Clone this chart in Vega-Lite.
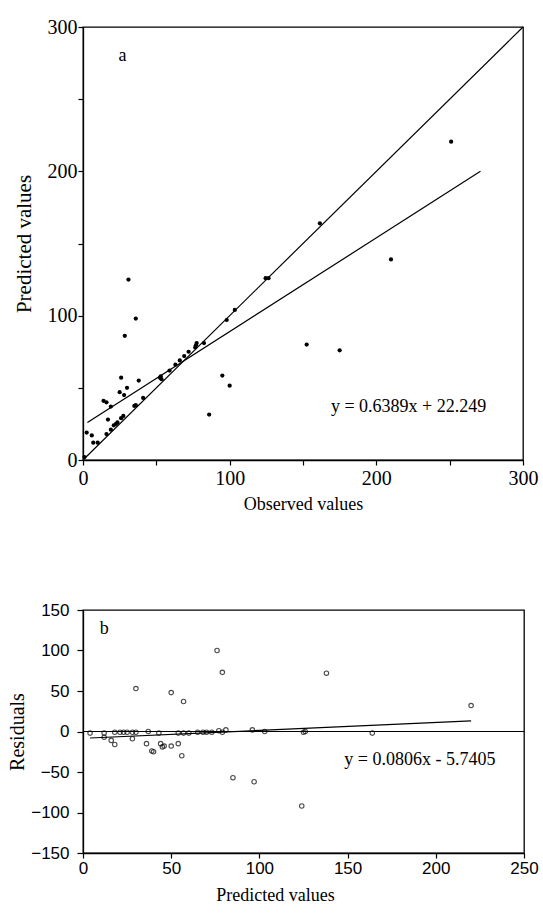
{
  "$schema": "https://vega.github.io/schema/vega-lite/v6.json",
  "background": "white",
  "padding": {"left": 7, "top": 16, "right": 5, "bottom": 5},
  "spacing": 86,
  "config": {
    "view": {"stroke": "black", "strokeWidth": 1.3},
    "axis": {"domainColor": "black", "tickColor": "black", "labelColor": "black", "titleColor": "black", "grid": false, "domainWidth": 1.3, "tickWidth": 1.2, "titleFontWeight": "normal"}
  },
  "datasets": {
    "obs": [
      {"x": 1, "y": 2}, {"x": 2.5, "y": 19}, {"x": 6, "y": 17}, {"x": 7, "y": 12}, {"x": 10, "y": 12},
      {"x": 16, "y": 18}, {"x": 17, "y": 28}, {"x": 14, "y": 41}, {"x": 16, "y": 40}, {"x": 19, "y": 37},
      {"x": 19, "y": 21}, {"x": 21, "y": 24}, {"x": 22.5, "y": 25}, {"x": 23.5, "y": 26}, {"x": 26, "y": 29},
      {"x": 27.5, "y": 30.5}, {"x": 25, "y": 47}, {"x": 28, "y": 45}, {"x": 26, "y": 57}, {"x": 30, "y": 50},
      {"x": 28.5, "y": 86}, {"x": 31, "y": 125}, {"x": 36, "y": 98}, {"x": 38, "y": 55}, {"x": 35, "y": 37.5},
      {"x": 36, "y": 38}, {"x": 41, "y": 43}, {"x": 52.5, "y": 57}, {"x": 53, "y": 58}, {"x": 53.5, "y": 56},
      {"x": 59, "y": 62}, {"x": 63, "y": 66}, {"x": 66, "y": 69}, {"x": 69, "y": 72}, {"x": 72, "y": 75},
      {"x": 76.5, "y": 78}, {"x": 77.5, "y": 81}, {"x": 77, "y": 79.5}, {"x": 82.5, "y": 81}, {"x": 86, "y": 31.5},
      {"x": 95, "y": 58.5}, {"x": 100, "y": 51.5}, {"x": 98, "y": 97}, {"x": 103.5, "y": 104}, {"x": 124.5, "y": 126},
      {"x": 126.5, "y": 126}, {"x": 161.5, "y": 164}, {"x": 210, "y": 139}, {"x": 251, "y": 220.5}, {"x": 152.5, "y": 80},
      {"x": 175, "y": 76}
    ],
    "oneToOne": [{"x": 0, "y": 0}, {"x": 300, "y": 300}],
    "fitTop": [{"x": 3, "y": 26}, {"x": 271, "y": 200}],
    "textTop": [{"x": 27, "y": 280, "label": "a"}, {"x": 222, "y": 37, "label": "y = 0.6389x + 22.249"}],
    "resid": [
      {"x": 4, "y": -2}, {"x": 12, "y": -2}, {"x": 12, "y": -7}, {"x": 16, "y": -11}, {"x": 18, "y": -16},
      {"x": 18, "y": -1}, {"x": 21, "y": -1}, {"x": 23, "y": -1}, {"x": 25, "y": -1}, {"x": 28, "y": -1},
      {"x": 30, "y": -1}, {"x": 28, "y": -9}, {"x": 30, "y": 53}, {"x": 37, "y": 0}, {"x": 36, "y": -15},
      {"x": 39, "y": -24}, {"x": 40, "y": -25}, {"x": 43, "y": -2}, {"x": 44, "y": -15}, {"x": 45, "y": -19},
      {"x": 46, "y": -18}, {"x": 50, "y": -18}, {"x": 50, "y": 48}, {"x": 54, "y": -15}, {"x": 56, "y": -30},
      {"x": 57, "y": 37}, {"x": 54, "y": -2}, {"x": 57, "y": -2}, {"x": 60, "y": -2}, {"x": 65, "y": -1},
      {"x": 68, "y": -1}, {"x": 70, "y": -1}, {"x": 73, "y": -1}, {"x": 76, "y": 100}, {"x": 77, "y": 1},
      {"x": 79, "y": 73}, {"x": 79, "y": -1}, {"x": 81, "y": 2}, {"x": 85, "y": -57}, {"x": 96, "y": 2},
      {"x": 97, "y": -62}, {"x": 103, "y": 0}, {"x": 125, "y": -1}, {"x": 126, "y": 0}, {"x": 138, "y": 72},
      {"x": 124, "y": -92}, {"x": 164, "y": -2}, {"x": 220, "y": 32}
    ],
    "zero": [{"x": 0, "y": 0}, {"x": 250, "y": 0}],
    "fitBot": [{"x": 4, "y": -8}, {"x": 220, "y": 13}],
    "textBot": [{"x": 12, "y": 126, "label": "b"}, {"x": 191, "y": -35, "label": "y = 0.0806x - 5.7405"}]
  },
  "vconcat": [
    {
      "width": 440,
      "height": 433,
      "encoding": {
        "x": {"field": "x", "type": "quantitative", "scale": {"domain": [0, 300], "nice": false},
          "axis": {"title": "Observed values", "values": [0, 50, 100, 150, 200, 250, 300],
            "labelExpr": "datum.value % 100 == 0 ? datum.label : ''",
            "labelFont": "Liberation Serif", "labelFontSize": 20, "titleFont": "Liberation Serif", "titleFontSize": 18,
            "tickSize": 5, "labelPadding": 3, "titlePadding": 7, "labelFlush": false}},
        "y": {"field": "y", "type": "quantitative", "scale": {"domain": [0, 300], "nice": false},
          "axis": {"title": "Predicted values", "values": [0, 50, 100, 150, 200, 250, 300],
            "labelExpr": "datum.value % 100 == 0 ? datum.label : ''",
            "labelFont": "Liberation Serif", "labelFontSize": 20, "titleFont": "Liberation Serif", "titleFontSize": 21,
            "tickSize": 5, "labelPadding": 1, "titlePadding": 13, "labelFlush": false}}
      },
      "layer": [
        {"data": {"name": "oneToOne"}, "mark": {"type": "line", "color": "black", "strokeWidth": 1.2}},
        {"data": {"name": "fitTop"}, "mark": {"type": "line", "color": "black", "strokeWidth": 1.2}},
        {"data": {"name": "obs"}, "mark": {"type": "circle", "color": "black", "opacity": 1, "size": 18}},
        {"data": {"name": "textTop"}, "mark": {"type": "text", "font": "Liberation Serif", "fontSize": 18, "color": "black"},
          "encoding": {"text": {"field": "label"}}}
      ]
    },
    {
      "width": 441,
      "height": 243,
      "encoding": {
        "x": {"field": "x", "type": "quantitative", "scale": {"domain": [0, 250], "nice": false},
          "axis": {"title": "Predicted values", "values": [0, 50, 100, 150, 200, 250],
            "labelFont": "Liberation Sans", "labelFontSize": 17, "titleFont": "Liberation Serif", "titleFontSize": 18,
            "tickSize": 5, "labelPadding": 2, "titlePadding": 10, "labelFlush": false, "titleX": 192}},
        "y": {"field": "y", "type": "quantitative", "scale": {"domain": [-150, 150], "nice": false},
          "axis": {"title": "Residuals", "values": [-150, -100, -50, 0, 50, 100, 150],
            "labelFont": "Liberation Sans", "labelFontSize": 17, "titleFont": "Liberation Serif", "titleFontSize": 20,
            "tickSize": 6, "labelPadding": 8, "titlePadding": 3, "labelFlush": false}}
      },
      "layer": [
        {"data": {"name": "zero"}, "mark": {"type": "line", "color": "black", "strokeWidth": 1.2}},
        {"data": {"name": "fitBot"}, "mark": {"type": "line", "color": "black", "strokeWidth": 1.2}},
        {"data": {"name": "resid"}, "mark": {"type": "point", "color": "black", "filled": false, "size": 20, "strokeWidth": 1.1}},
        {"data": {"name": "textBot"}, "mark": {"type": "text", "font": "Liberation Serif", "fontSize": 18, "color": "black"},
          "encoding": {"text": {"field": "label"}}}
      ]
    }
  ]
}
